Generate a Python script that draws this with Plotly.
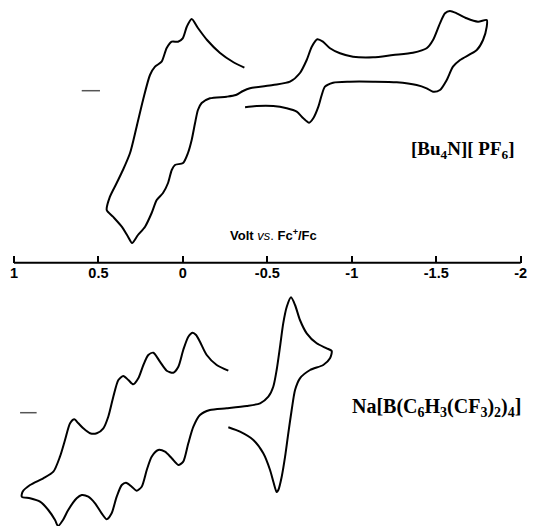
import plotly.graph_objects as go

# ---- data: potential (V vs Fc+/Fc) and current (arbitrary units) ----
top_potential = [-0.364, -0.297, -0.220, -0.143, -0.089, -0.052, -0.023, 0.001, 0.029, 0.066,
                 0.096, 0.126, 0.165, 0.195, 0.236, 0.274, 0.313, 0.355, 0.392, 0.432,
                 0.451, 0.414, 0.362, 0.325, 0.301, 0.266, 0.224, 0.185, 0.155, 0.118,
                 0.088, 0.066, 0.047, -0.001, -0.030, -0.052, -0.072, -0.089, -0.111, -0.160,
                 -0.259, -0.314, -0.356, -0.397, -0.533, -0.634, -0.693, -0.733, -0.763, -0.796,
                 -0.829, -0.871, -0.930, -1.007, -1.126, -1.244, -1.362, -1.443, -1.481, -1.522,
                 -1.552, -1.581, -1.621, -1.680, -1.747, -1.799, -1.799, -1.777, -1.740, -1.641,
                 -1.599, -1.562, -1.522, -1.481, -1.443, -1.384, -1.266, -1.126, -0.989, -0.889,
                 -0.841, -0.822, -0.802, -0.772, -0.747, -0.713, -0.674, -0.615, -0.535, -0.437,
                 -0.368]
top_current = [23.0, 28.7, 37.7, 50.7, 62.7, 71.7, 64.0, 52.4, 49.0, 49.0,
               42.7, 29.0, 24.0, 15.7, -9.3, -36.0, -62.3, -79.3, -92.3, -106.0,
               -119.3, -126.0, -136.0, -146.0, -152.3, -144.3, -136.0, -122.3, -109.3, -102.3,
               -92.3, -79.3, -74.3, -72.3, -62.3, -49.3, -32.3, -19.3, -12.3, -7.6,
               -6.0, -4.3, -0.3, 2.4, 5.7, 9.0, 17.7, 30.7, 44.0, 51.4,
               49.0, 42.4, 37.4, 34.0, 33.4, 35.7, 38.0, 42.4, 50.7, 67.4,
               77.4, 79.7, 77.4, 72.4, 69.0, 70.7, 64.0, 50.7, 40.7, 30.7,
               24.0, 10.7, 0.7, -1.0, 2.4, 5.7, 8.4, 9.0, 9.0, 8.0,
               4.0, -4.3, -16.0, -27.6, -32.0, -27.6, -21.0, -17.6, -15.3, -15.3,
               -16.6]

bottom_potential = [-0.269, -0.200, -0.141, -0.101, -0.078, -0.058, -0.032, -0.002, 0.027, 0.057,
                    0.096, 0.136, 0.175, 0.205, 0.234, 0.264, 0.294, 0.323, 0.353, 0.382,
                    0.412, 0.442, 0.471, 0.510, 0.550, 0.590, 0.619, 0.643, 0.668, 0.698,
                    0.728, 0.767, 0.827, 0.905, 0.949, 0.954, 0.905, 0.846, 0.797, 0.757,
                    0.739, 0.710, 0.679, 0.629, 0.599, 0.560, 0.520, 0.481, 0.451, 0.422,
                    0.392, 0.362, 0.337, 0.303, 0.274, 0.244, 0.214, 0.185, 0.146, 0.106,
                    0.066, 0.027, -0.002, -0.032, -0.062, -0.101, -0.160, -0.259, -0.378, -0.457,
                    -0.506, -0.535, -0.555, -0.575, -0.594, -0.615, -0.640, -0.664, -0.693, -0.733,
                    -0.792, -0.851, -0.881, -0.871, -0.831, -0.753, -0.693, -0.664, -0.644, -0.624,
                    -0.605, -0.585, -0.565, -0.555, -0.536, -0.516, -0.476, -0.417, -0.338, -0.269]
bottom_current = [42.0, 47.7, 57.7, 71.0, 77.7, 80.0, 76.0, 62.7, 46.0, 40.0,
                  42.0, 51.0, 60.0, 57.7, 47.7, 34.4, 28.4, 32.7, 36.7, 32.7,
                  16.0, -4.0, -15.6, -20.6, -20.6, -15.6, -10.6, -6.6, -10.6, -27.3,
                  -44.0, -59.0, -65.6, -72.3, -79.0, -84.0, -85.6, -89.0, -97.3, -107.3,
                  -113.3, -107.3, -97.3, -85.6, -82.3, -84.0, -90.6, -100.6, -106.6, -100.6,
                  -84.0, -72.3, -70.0, -74.0, -78.0, -74.0, -57.3, -44.0, -37.3, -39.0,
                  -45.6, -52.3, -49.0, -30.6, -14.0, -2.3, 2.7, 4.4, 6.7, 9.4,
                  16.0, 26.0, 42.7, 66.0, 89.4, 106.0, 115.4, 107.7, 92.7, 79.4,
                  69.4, 64.4, 61.7, 54.4, 47.7, 42.7, 34.4, 22.7, 2.7, -20.6,
                  -44.0, -64.0, -77.3, -79.3, -69.3, -57.3, -40.6, -27.3, -19.0, -14.6]

tick_values = [1, 0.5, 0, -0.5, -1, -1.5, -2]
tick_labels = ["1", "0.5", "0", "-0.5", "-1", "-1.5", "-2"]

top_label = "[Bu<sub>4</sub>N][ PF<sub>6</sub>]"
bottom_label = "Na[B(C<sub>6</sub>H<sub>3</sub>(CF<sub>3</sub>)<sub>2</sub>)<sub>4</sub>]"
axis_title = "<b>Volt</b> <i>vs</i>. <b>Fc<sup>+</sup>/Fc</b>"

# vertical placement of each voltammogram (zero-current level)
TOP_ZERO = 435.3
BOTTOM_ZERO = 113.3
AXIS_Y = 263.3

fig = go.Figure()
fig.add_trace(go.Scatter(x=top_potential, y=[TOP_ZERO + c for c in top_current],
                         mode="lines", line=dict(color="black", width=2, shape="spline", smoothing=0.7),
                         hoverinfo="skip"))
fig.add_trace(go.Scatter(x=bottom_potential, y=[BOTTOM_ZERO + c for c in bottom_current],
                         mode="lines", line=dict(color="black", width=2, shape="spline", smoothing=0.7),
                         hoverinfo="skip"))

# zero-current markers
fig.add_shape(type="line", x0=0.599, x1=0.491, y0=TOP_ZERO, y1=TOP_ZERO,
              line=dict(color="#555555", width=1.5))
fig.add_shape(type="line", x0=0.964, x1=0.866, y0=BOTTOM_ZERO, y1=BOTTOM_ZERO,
              line=dict(color="#555555", width=1.5))
# potential axis line
fig.add_shape(type="line", x0=1, x1=-2, y0=AXIS_Y, y1=AXIS_Y,
              line=dict(color="black", width=2))

fig.add_annotation(x=-1.66, y=TOP_ZERO - 59, text=top_label, showarrow=False,
                   font=dict(family="Liberation Serif", size=19, color="black", weight="bold"))
fig.add_annotation(x=-1.5, y=BOTTOM_ZERO + 5.5, text=bottom_label, showarrow=False,
                   font=dict(family="Liberation Serif", size=20, color="black", weight="bold"))
fig.add_annotation(x=-0.536, y=AXIS_Y + 28, text=axis_title, showarrow=False,
                   font=dict(family="Liberation Sans", size=13, color="black"))

fig.update_layout(
    width=536, height=526,
    margin=dict(l=0, r=0, t=0, b=0),
    paper_bgcolor="white", plot_bgcolor="white",
    showlegend=False,
    xaxis=dict(range=[1.0829, -2.0906], anchor="free", position=AXIS_Y / 526,
               tickmode="array", tickvals=tick_values, ticktext=tick_labels,
               ticks="inside", ticklen=7, tickwidth=2, tickcolor="black",
               showline=False, showgrid=False, zeroline=False,
               tickfont=dict(family="Liberation Sans", size=14.5, color="black", weight="bold")),
    yaxis=dict(range=[0, 526], visible=False, showgrid=False, zeroline=False),
)

fig.write_html("out.html", config={"displayModeBar": False},
               post_script="document.body.style.margin='0';document.body.style.overflow='hidden';")
